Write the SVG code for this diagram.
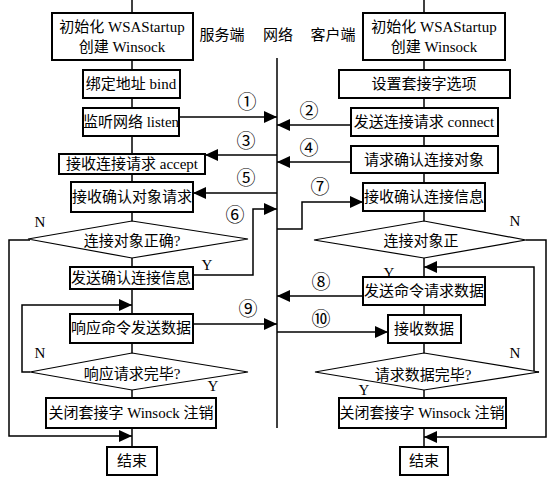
<svg xmlns="http://www.w3.org/2000/svg" width="556" height="482" viewBox="0 0 556 482">
<style>
.box{fill:#fff;stroke:#000;stroke-width:2}
.dia{fill:#fff;stroke:#000;stroke-width:1.2}
.t{font-family:"Liberation Serif","Noto Sans CJK SC",serif;font-size:15px;fill:#000;text-anchor:middle}
.lb{font-family:"Liberation Serif","Noto Sans CJK SC",serif;font-size:15px;fill:#000;text-anchor:middle}
.num{font-family:"Noto Sans CJK SC","DejaVu Sans",sans-serif;font-size:19px;fill:#000;text-anchor:middle}
.c{fill:none;stroke:#000;stroke-width:1.5}
.ca{fill:none;stroke:#000;stroke-width:1.5;marker-end:url(#ah)}
</style>
<defs>
<marker id="ah" markerUnits="userSpaceOnUse" markerWidth="13" markerHeight="12" refX="13" refY="6" orient="auto">
<path d="M0,0 L13,6 L0,12 z" fill="#000"/>
</marker>
</defs>
<rect width="556" height="482" fill="#fff"/>

<g id="connectors">
<line class="c" x1="277" y1="58" x2="277" y2="428" stroke-width="2"/>
<line class="c" x1="132" y1="0" x2="132" y2="13"/>
<line class="c" x1="132" y1="60" x2="132" y2="70"/>
<line class="c" x1="132" y1="98" x2="132" y2="108"/>
<line class="c" x1="132" y1="136" x2="132" y2="154"/>
<line class="c" x1="132" y1="174" x2="132" y2="182"/>
<line class="c" x1="132" y1="212" x2="132" y2="221"/>
<line class="c" x1="132" y1="258" x2="132" y2="267"/>
<line class="c" x1="132" y1="289" x2="132" y2="314"/>
<line class="c" x1="132" y1="343" x2="132" y2="353"/>
<line class="c" x1="132" y1="390" x2="132" y2="398"/>
<line class="c" x1="132" y1="428" x2="132" y2="447"/>
<polyline class="ca" points="30,240 9,240 9,436 132,436"/>
<polyline class="ca" points="30,372 22,372 22,305 132,305"/>
<line class="c" x1="424" y1="0" x2="424" y2="13"/>
<line class="c" x1="424" y1="60" x2="424" y2="70"/>
<line class="c" x1="424" y1="98" x2="424" y2="108"/>
<line class="c" x1="424" y1="136" x2="424" y2="146"/>
<line class="c" x1="424" y1="173" x2="424" y2="183"/>
<line class="c" x1="424" y1="211" x2="424" y2="221"/>
<line class="c" x1="424" y1="258" x2="424" y2="277"/>
<line class="c" x1="424" y1="305" x2="424" y2="315"/>
<line class="c" x1="424" y1="343" x2="424" y2="353"/>
<line class="c" x1="424" y1="390" x2="424" y2="398"/>
<line class="c" x1="424" y1="428" x2="424" y2="447"/>
<polyline class="ca" points="526,240 546,240 546,437 424,437"/>
<polyline class="ca" points="539,372 534,372 534,267 424,267"/>
<line class="ca" x1="180" y1="117" x2="277" y2="117"/>
<line class="ca" x1="351" y1="125" x2="277" y2="125"/>
<line class="ca" x1="277" y1="155" x2="205" y2="155"/>
<line class="ca" x1="351" y1="162" x2="277" y2="162"/>
<line class="ca" x1="277" y1="193" x2="193" y2="193"/>
<polyline class="ca" points="193,275 253,275 253,209 277,209"/>
<polyline class="ca" points="277,229 302,229 302,202 363,202"/>
<line class="ca" x1="363" y1="296" x2="277" y2="296"/>
<line class="ca" x1="193" y1="324" x2="277" y2="324"/>
<line class="ca" x1="277" y1="332" x2="388" y2="332"/>
</g>

<g id="labels">
<text class="lb" x="222" y="40">服务端</text>
<text class="lb" x="278" y="40">网络</text>
<text class="lb" x="333" y="40">客户端</text>
<text class="num" x="247" y="109">①</text>
<text class="num" x="309" y="118">②</text>
<text class="num" x="246" y="148">③</text>
<text class="num" x="309" y="155">④</text>
<text class="num" x="246" y="185">⑤</text>
<text class="num" x="235" y="222">⑥</text>
<text class="num" x="320" y="194">⑦</text>
<text class="num" x="321" y="289">⑧</text>
<text class="num" x="248" y="316">⑨</text>
<text class="num" x="321" y="326">⑩</text>
<text class="lb" x="40" y="227">N</text>
<text class="lb" x="207" y="270">Y</text>
<text class="lb" x="40" y="358">N</text>
<text class="lb" x="213" y="391">Y</text>
<text class="lb" x="515" y="226">N</text>
<text class="lb" x="389" y="278">Y</text>
<text class="lb" x="515" y="358">N</text>
<text class="lb" x="364" y="395">Y</text>
</g>

<g id="s-init">
<rect class="box" x="52" y="13" width="141" height="47"/>
<text class="t" x="122" y="32">初始化 WSAStartup</text>
<text class="t" x="122" y="52">创建 Winsock</text>
</g>
<g id="s-bind">
<rect class="box" x="83" y="70" width="97" height="28"/>
<text class="t" x="131" y="89">绑定地址 bind</text>
</g>
<g id="s-listen">
<rect class="box" x="83" y="108" width="96" height="28"/>
<text class="t" x="131" y="127">监听网络 listen</text>
</g>
<g id="s-accept">
<rect class="box" x="59" y="154" width="146" height="20"/>
<text class="t" x="132" y="169">接收连接请求 accept</text>
</g>
<g id="s-recvreq">
<rect class="box" x="71" y="182" width="122" height="30"/>
<text class="t" x="132" y="202">接收确认对象请求</text>
</g>
<g id="s-check">
<polygon class="dia" points="132,221 248,239 132,258 28,239"/>
<text class="t" x="132" y="246">连接对象正确?</text>
</g>
<g id="s-sendconf">
<rect class="box" x="70" y="267" width="123" height="22"/>
<text class="t" x="131" y="283">发送确认连接信息</text>
</g>
<g id="s-respond">
<rect class="box" x="70" y="314" width="123" height="29"/>
<text class="t" x="131" y="333">响应命令发送数据</text>
</g>
<g id="s-done">
<polygon class="dia" points="132,353 248,372 132,390 30,372"/>
<text class="t" x="132" y="379">响应请求完毕?</text>
</g>
<g id="s-close">
<rect class="box" x="46" y="398" width="170" height="30"/>
<text class="t" x="131" y="418">关闭套接字 Winsock 注销</text>
</g>
<g id="s-end">
<rect class="box" x="107" y="447" width="50" height="28"/>
<text class="t" x="132" y="466">结束</text>
</g>

<g id="c-init">
<rect class="box" x="363" y="13" width="142" height="47"/>
<text class="t" x="434" y="32">初始化 WSAStartup</text>
<text class="t" x="434" y="52">创建 Winsock</text>
</g>
<g id="c-opt">
<rect class="box" x="339" y="70" width="171" height="28"/>
<text class="t" x="424" y="89">设置套接字选项</text>
</g>
<g id="c-connect">
<rect class="box" x="351" y="108" width="147" height="28"/>
<text class="t" x="424" y="127">发送连接请求 connect</text>
</g>
<g id="c-reqconf">
<rect class="box" x="351" y="146" width="147" height="27"/>
<text class="t" x="424" y="165">请求确认连接对象</text>
</g>
<g id="c-recvconf">
<rect class="box" x="363" y="183" width="122" height="28"/>
<text class="t" x="424" y="202">接收确认连接信息</text>
</g>
<g id="c-check">
<polygon class="dia" points="424,221 526,240 424,258 314,240"/>
<text class="t" x="421" y="246">连接对象正</text>
</g>
<g id="c-sendcmd">
<rect class="box" x="363" y="277" width="122" height="28"/>
<text class="t" x="424" y="296">发送命令请求数据</text>
</g>
<g id="c-recv">
<rect class="box" x="388" y="315" width="73" height="28"/>
<text class="t" x="424" y="334">接收数据</text>
</g>
<g id="c-done">
<polygon class="dia" points="424,353 539,372 424,390 315,372"/>
<text class="t" x="423" y="380">请求数据完毕?</text>
</g>
<g id="c-close">
<rect class="box" x="339" y="398" width="167" height="30"/>
<text class="t" x="422" y="418">关闭套接字 Winsock 注销</text>
</g>
<g id="c-end">
<rect class="box" x="400" y="447" width="48" height="28"/>
<text class="t" x="424" y="466">结束</text>
</g>
</svg>
